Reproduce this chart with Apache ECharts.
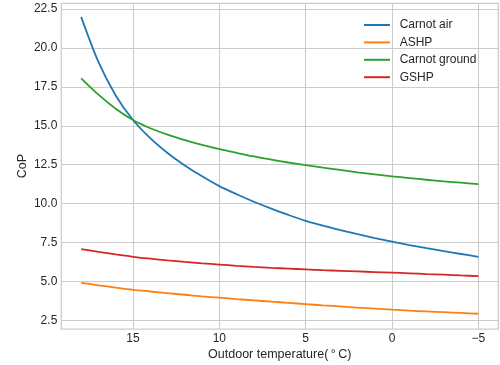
<!DOCTYPE html>
<html>
<head>
<meta charset="utf-8">
<style>
  html, body { margin: 0; padding: 0; background: #ffffff; }
  #chart { width: 500px; height: 365px; }
</style>
<script src="https://cdn.jsdelivr.net/npm/echarts@6/dist/echarts.min.js"></script>
</head>
<body>
<div id="chart"></div>
<script>
// Outdoor temperature (°C), warm to cold
const temps = [18, 17, 16, 15, 14, 13, 12, 11, 10, 9, 8, 7, 6, 5, 4, 3, 2, 1, 0, -1, -2, -3, -4, -5];

// Coefficient of performance for each case
const carnotAir = [22.0, 19.1, 16.95, 15.37, 14.2, 13.25, 12.45, 11.75, 11.12, 10.6, 10.12, 9.68, 9.27, 8.89, 8.58, 8.3, 8.03, 7.78, 7.55, 7.33, 7.13, 6.94, 6.76, 6.58];
const ashp = [4.91, 4.75, 4.6, 4.46, 4.35, 4.24, 4.14, 4.04, 3.95, 3.86, 3.78, 3.7, 3.62, 3.54, 3.46, 3.39, 3.31, 3.25, 3.18, 3.12, 3.07, 3.02, 2.97, 2.92];
const carnotGround = [18.05, 17.0, 16.1, 15.37, 14.84, 14.43, 14.08, 13.77, 13.5, 13.26, 13.03, 12.83, 12.64, 12.47, 12.31, 12.16, 12.01, 11.88, 11.75, 11.64, 11.53, 11.43, 11.34, 11.25];
const gshp = [7.08, 6.9, 6.73, 6.58, 6.46, 6.35, 6.25, 6.16, 6.08, 6.0, 5.93, 5.87, 5.82, 5.77, 5.72, 5.68, 5.64, 5.6, 5.56, 5.52, 5.47, 5.43, 5.38, 5.34];

// Tick positions
const xTicks = [15, 10, 5, 0, -5];
const yTicks = [2.5, 5.0, 7.5, 10.0, 12.5, 15.0, 17.5, 20.0, 22.5];

const seriesDefs = [
  { name: 'Carnot air', values: carnotAir, color: '#1f77b4' },
  { name: 'ASHP', values: ashp, color: '#ff7f0e' },
  { name: 'Carnot ground', values: carnotGround, color: '#2ca02c' },
  { name: 'GSHP', values: gshp, color: '#d62728' }
];

const FONT = '"Liberation Sans", Arial, sans-serif';
const TEXT = '#262626';
const GRIDC = '#cccccc';

const chart = echarts.init(document.getElementById('chart'), null, { renderer: 'canvas' });

chart.setOption({
  animation: false,
  backgroundColor: '#ffffff',
  textStyle: { fontFamily: FONT, color: TEXT },
  grid: {
    left: 61.3, right: 1.7, top: 3.3, bottom: 36,
    outerBoundsMode: 'none',
    show: true, borderColor: GRIDC, borderWidth: 1.25, backgroundColor: 'transparent'
  },
  legend: {
    orient: 'vertical',
    left: 364, top: 18,
    padding: 0,
    itemWidth: 26, itemHeight: 2,
    itemGap: 3.4,
    icon: 'rect',
    textStyle: { fontFamily: FONT, fontSize: 12, color: TEXT, lineHeight: 14, padding: [0, 0, 0, 4.7] },
    data: seriesDefs.map(s => s.name)
  },
  xAxis: {
    type: 'value',
    inverse: true,
    min: -6.15, max: 19.15,
    name: 'Outdoor temperature(\u2009\u00b0\u2009C)',
    nameLocation: 'middle',
    nameGap: 19,
    nameMoveOverlap: false,
    nameTextStyle: { fontFamily: FONT, fontSize: 12.5, color: TEXT },
    axisLine: { show: false },
    axisTick: { show: false, customValues: xTicks },
    axisLabel: {
      customValues: xTicks,
      margin: 4,
      fontFamily: FONT, fontSize: 12, color: TEXT,
      formatter: v => (v < 0 ? '\u2212' + Math.abs(v) : String(v))
    },
    splitLine: { show: true, lineStyle: { color: GRIDC, width: 1.1 } }
  },
  yAxis: {
    type: 'value',
    min: 1.94, max: 22.87,
    name: 'CoP',
    nameLocation: 'middle',
    nameGap: 32,
    nameMoveOverlap: false,
    nameRotate: 90,
    nameTextStyle: { fontFamily: FONT, fontSize: 12.5, color: TEXT },
    axisLine: { show: false },
    axisTick: { show: false, customValues: yTicks },
    axisLabel: {
      customValues: yTicks,
      margin: 4,
      fontFamily: FONT, fontSize: 12, color: TEXT,
      formatter: v => v.toFixed(1)
    },
    splitLine: { show: true, lineStyle: { color: GRIDC, width: 1.1 } }
  },
  series: seriesDefs.map(s => ({
    name: s.name,
    type: 'line',
    data: temps.map((t, i) => [t, s.values[i]]),
    showSymbol: false,
    smooth: 0.3,
    color: s.color,
    lineStyle: { color: s.color, width: 1.8 },
    emphasis: { disabled: true }
  }))
});
</script>
</body>
</html>
